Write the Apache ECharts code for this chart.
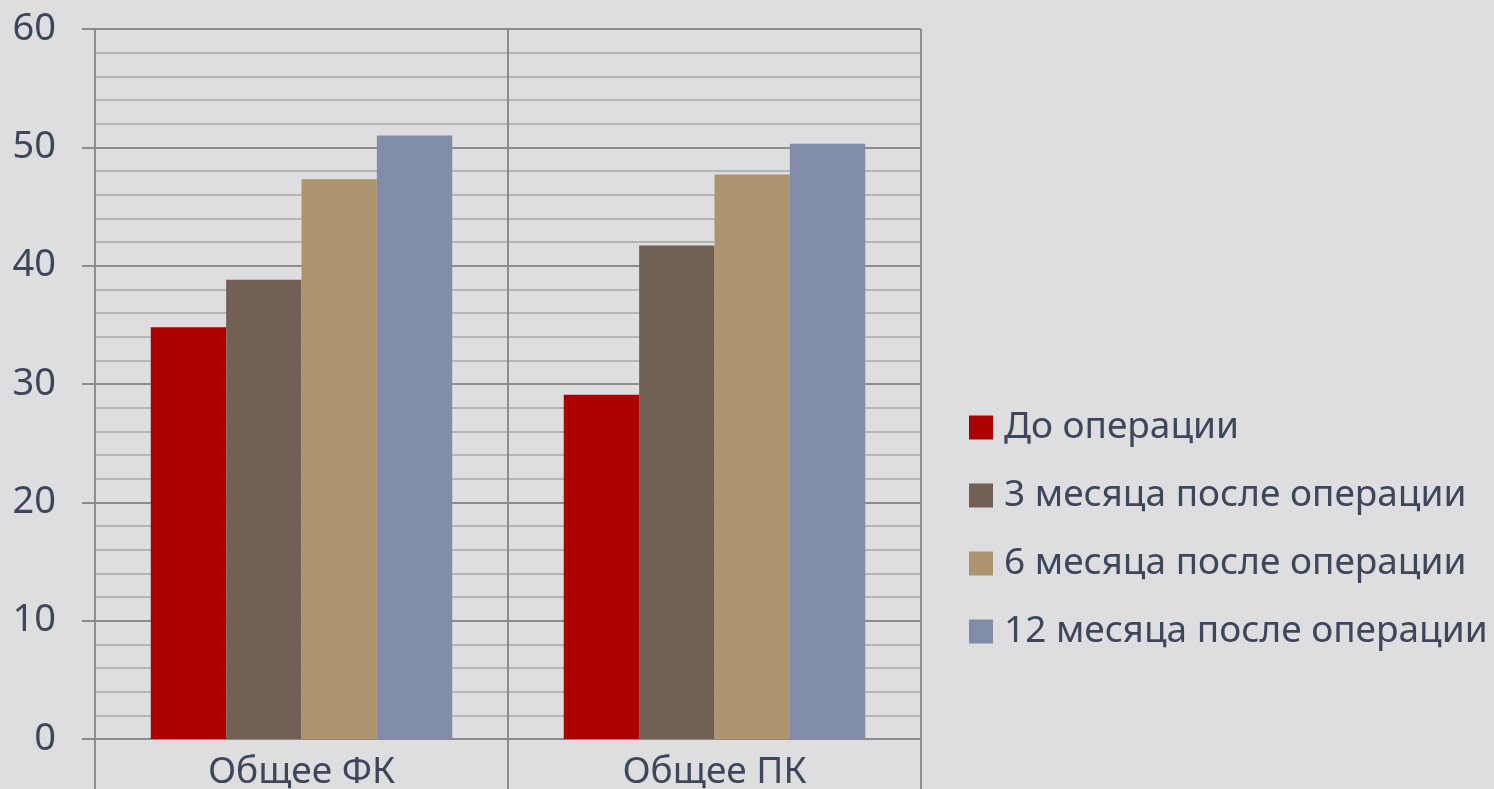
<!DOCTYPE html>
<html>
<head>
<meta charset="utf-8">
<script src="https://cdn.jsdelivr.net/npm/echarts@6/dist/echarts.min.js"></script>
<style>
  html, body { margin: 0; padding: 0; background: #dedee0; }
  #chart { width: 1494px; height: 789px; }
</style>
</head>
<body>
<div id="chart"></div>
<script>
const categories = ['Общее ФК', 'Общее ПК'];
const seriesNames = ['До операции', '3 месяца после операции', '6 месяца после операции', '12 месяца после операции'];
const seriesColors = ['#ad0101', '#726056', '#ac956e', '#808ca8'];
const beforeOp = [34.8, 29.1];
const after3 = [38.8, 41.7];
const after6 = [47.3, 47.7];
const after12 = [51.0, 50.3];
const seriesValues = [beforeOp, after3, after6, after12];

const textColor = '#3d475c';
const fontFamily = '"Noto Sans", "Open Sans", sans-serif';

const chart = echarts.init(document.getElementById('chart'), null, {
  renderer: 'canvas'
});

const opt = {
  backgroundColor: '#dedee0',
  animation: false,
  grid: {
    left: 95,
    right: 573,
    top: 29,
    bottom: 50,
    containLabel: false,
    outerBoundsMode: 'none'
  },
  legend: {
    orient: 'vertical',
    left: 964,
    top: 404,
    itemWidth: 24,
    itemHeight: 24,
    itemGap: 31,
    icon: 'rect',
    data: seriesNames,
    textStyle: {
      color: textColor,
      fontFamily: fontFamily,
      fontSize: 37,
      padding: [0, 0, 0, 6]
    }
  },
  xAxis: {
    type: 'category',
    data: categories,
    axisLine: { show: true, lineStyle: { color: '#8c8c8c', width: 2 } },
    axisTick: { show: true, length: 50, lineStyle: { color: '#8c8c8c', width: 2 } },
    splitLine: { show: true, lineStyle: { color: '#8c8c8c', width: 2 } },
    axisLabel: {
      color: textColor,
      fontFamily: fontFamily,
      fontSize: 37,
      margin: 15
    }
  },
  yAxis: {
    type: 'value',
    min: 0,
    max: 60,
    interval: 10,
    axisLine: { show: true, lineStyle: { color: '#8c8c8c', width: 2 } },
    axisTick: { show: true, length: 13, lineStyle: { color: '#8c8c8c', width: 2 } },
    minorTick: { show: false, splitNumber: 5 },
    splitLine: { show: true, lineStyle: { color: '#8c8c8c', width: 2 } },
    minorSplitLine: { show: true, lineStyle: { color: '#b5b5b6', width: 2 } },
    axisLabel: {
      color: textColor,
      fontFamily: fontFamily,
      fontSize: 38,
      margin: 39
    }
  },
  series: seriesNames.map((name, i) => ({
    name: name,
    type: 'bar',
    data: seriesValues[i],
    barGap: '0%',
    barCategoryGap: '27%',
    itemStyle: { color: seriesColors[i] }
  }))
};

chart.setOption(opt);
</script>
</body>
</html>
